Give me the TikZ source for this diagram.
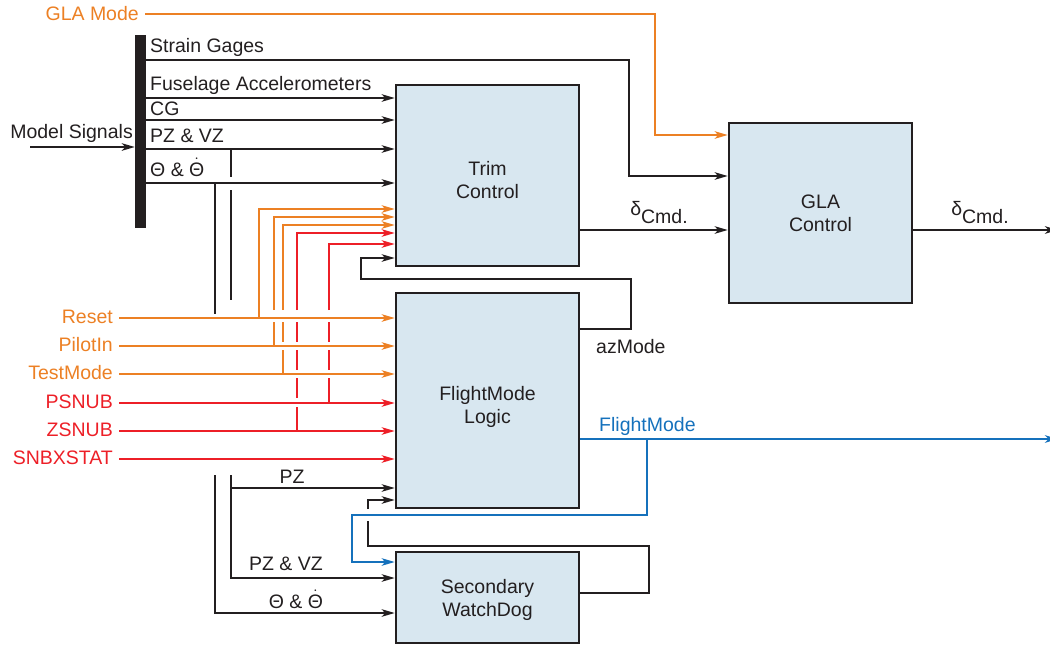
\documentclass[tikz,border=0pt]{standalone}
\usepackage{fontspec}
\setmainfont{Liberation Sans}
\usetikzlibrary{arrows.meta,positioning}
\definecolor{wireblack}{RGB}{35,31,32}
\definecolor{wireorange}{RGB}{236,128,36}
\definecolor{wirered}{RGB}{237,31,39}
\definecolor{wireblue}{RGB}{21,113,188}
\definecolor{blockfill}{RGB}{216,231,240}
\newcommand{\diafont}{\fontsize{19.5}{23}\selectfont}
\newcommand{\dcmd}{\raisebox{8pt}{δ}Cmd.}
\newcommand{\thetapair}{Θ \& $\dot{\hbox{Θ}}$}
\tikzset{
  ctrlblock/.style={
    rectangle,
    draw=wireblack,
    line width=2.6pt,
    fill=blockfill,
    inner sep=0pt,
    minimum width=183pt
  },
  blocktext/.style={
    align=center,
    inner sep=0pt,
    font=\diafont,
    text=wireblack
  },
  wirelabel/.style={
    inner sep=0pt,
    font=\diafont,
    text=wireblack
  },
  wire/.style={
    line width=2.1pt,
    draw=wireblack
  },
  wirearrow/.style={
    wire,
    -{Stealth[length=13pt,width=7.5pt,inset=3.5pt]}
  },
  busbar/.style={
    rectangle,
    fill=wireblack,
    inner sep=0pt,
    minimum width=11pt,
    minimum height=193pt
  }
}

\begin{document}
\begin{tikzpicture}[x=1pt,y=-1pt]
\useasboundingbox (0,0) rectangle (1050,646);

% blocks
\node[ctrlblock, minimum height=181pt] (trim) at (487.5,175.5) {};
\node[ctrlblock, minimum height=180pt] (gla) at (820.5,213) {};
\node[ctrlblock, minimum height=215pt] (flight) at (487.5,400.5) {};
\node[ctrlblock, minimum height=91pt] (watch) at (487.5,597.5) {};
\node[blocktext] (trimtext) at (487.5,180) {Trim\\Control};
\node[blocktext] (glatext) at (820.5,213) {GLA\\Control};
\node[blocktext] (flighttext) at (487.5,407) {FlightMode\\Logic};
\node[blocktext] (watchtext) at (487.5,600) {Secondary\\WatchDog};
\node[busbar] (bus) at (140.5,131.5) {};

% GLA mode
\node[wirelabel, text=wireorange, anchor=base east, inner xsep=6pt] (glamode) at (145,20) {GLA Mode};
\coordinate (glabend) at (655,135);
\draw[wirearrow, draw=wireorange] (glamode.east |- 0,14) -| (glabend) -- (glabend -| gla.west);

% model signals bus
\node[wirelabel, anchor=base east] (modelsig) at (133,138) {Model Signals};
\coordinate (msin) at (30,147);
\draw[wirearrow] (msin) -- (msin -| bus.west);

\node[wirelabel, anchor=base west] (sglabel) at (150,52) {Strain Gages};
\node[wirelabel, anchor=base west] (falabel) at (150,90) {Fuselage Accelerometers};
\node[wirelabel, anchor=base west] (cglabel) at (150,115) {CG};
\node[wirelabel, anchor=base west] (pzvzlabel) at (150,142) {PZ \& VZ};
\node[wirelabel, anchor=base west] (thlabel) at (150,176) {\thetapair};
\coordinate (sgbend) at (629,176);
\draw[wirearrow] (bus.east |- 0,60) -| (sgbend) -- (sgbend -| gla.west);
\foreach \y in {98,120,149,183}
  \draw[wirearrow] (bus.east |- 0,\y) -- (trim.west |- 0,\y);

% taps down to the watchdog
\draw[wire] (231,149) -- (231,177) (231,190) -- (231,300);
\draw[wire] (215,183) -- (215,314);
\draw[wirearrow] (231,475) |- (watch.west |- 0,578);
\draw[wirearrow] (231,488) -- (flight.west |- 0,488);
\draw[wirearrow] (215,475) |- (watch.west |- 0,613);
\node[wirelabel, anchor=base] (pzlabel) at (292,483) {PZ};
\node[wirelabel, anchor=base] (pzvzlow) at (286,570) {PZ \& VZ};
\node[wirelabel, anchor=base] (thlow) at (296,608) {\thetapair};

% discrete inputs
\foreach \nm/\txt/\col/\y in {reset/Reset/wireorange/318, pilot/PilotIn/wireorange/346,
    test/TestMode/wireorange/374, psnub/PSNUB/wirered/403,
    zsnub/ZSNUB/wirered/431, snbx/SNBXSTAT/wirered/459}{
  \node[wirelabel, text=\col, anchor=base east, inner xsep=6pt] (\nm) at (119,\y+5) {\txt};
  \draw[wirearrow, draw=\col] (\nm.east |- 0,\y) -- (flight.west |- 0,\y);
}

% taps up into trim
\draw[wirearrow, draw=wireorange] (259,318) |- (trim.west |- 0,209);
\draw[wirearrow, draw=wireorange] (274,310) |- (trim.west |- 0,217);
\draw[wire, draw=wireorange] (274,322) -- (274,346);
\draw[wirearrow, draw=wireorange] (283,310) |- (trim.west |- 0,225);
\draw[wire, draw=wireorange] (283,322) -- (283,342) (283,350) -- (283,374);
\draw[wirearrow, draw=wirered] (297,310) |- (trim.west |- 0,233);
\draw[wire, draw=wirered] (297,322) -- (297,342) (297,350) -- (297,370) (297,378) -- (297,398) (297,407) -- (297,431);
\draw[wirearrow, draw=wirered] (329,310) |- (trim.west |- 0,244);
\draw[wire, draw=wirered] (329,322) -- (329,342) (329,350) -- (329,370) (329,378) -- (329,403);

% azMode feedback
\coordinate (azup) at (631,279);
\coordinate (azin) at (361,258);
\draw[wirearrow] (flight.east |- 0,329) -| (azup) -| (azin) -- (azin -| trim.west);
\node[wirelabel, anchor=base west] (azlabel) at (596,353) {azMode};

% commands
\draw[wirearrow] (trim.east |- 0,230) -- (gla.west |- 0,230);
\node[wirelabel, anchor=base] (dcmdtrim) at (659,223) {\dcmd};
\coordinate (glaout) at (1058,230);
\draw[wirearrow] (gla.east |- glaout) -- (glaout);
\node[wirelabel, anchor=base] (dcmdgla) at (980,223) {\dcmd};

% flight mode
\coordinate (fmout) at (1058,439);
\coordinate (fmtap) at (647,439);
\coordinate (fmbend) at (352,515);
\draw[wirearrow, draw=wireblue] (flight.east |- fmout) -- (fmout);
\draw[wirearrow, draw=wireblue] (fmtap) |- (fmbend) |- (watch.west |- 0,562);
\node[wirelabel, text=wireblue, anchor=base west] (fmlabel) at (599,431) {FlightMode};

% watchdog feedback
\coordinate (wdup) at (649,546);
\coordinate (wdgap) at (368,521);
\draw[wire] (watch.east |- 0,593) -| (wdup) -| (wdgap);
\draw[wirearrow] (368,509) |- (flight.west |- 0,500);
\end{tikzpicture}
\end{document}
